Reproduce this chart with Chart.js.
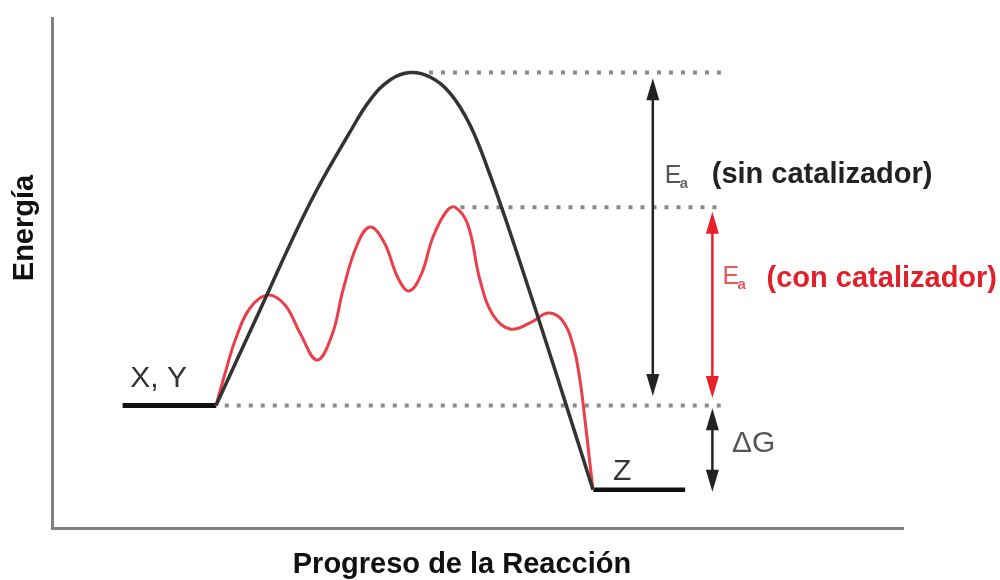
<!DOCTYPE html>
<html>
<head>
<meta charset="utf-8">
<title>Energía vs Progreso de la Reacción</title>
<script src="https://cdn.jsdelivr.net/npm/chart.js@4.4.1/dist/chart.umd.min.js"></script>
<style>
  html, body { margin: 0; padding: 0; background: #fff; }
  #wrap { width: 1000px; height: 580px; }
</style>
</head>
<body>
<div id="wrap"><canvas id="chart" width="1000" height="580"></canvas></div>
<script>
"use strict";

// ── Data (progress 0–100, energy 0–100) ───────────────────────────────────
const reactantX  = [8.3, 19.3];
const productX   = [63.6, 74.4];
const levelE     = { reactant: 24, product: 7.5, peakUncat: 89.3, peakCat: 62.9 };

// uncatalysed path
const blackX = [19.27, 24.44, 30.32, 35.02, 37.37, 39.72, 42.07, 44.42, 46.77, 49.12, 51.47, 54.52, 59.11, 63.57];
const blackE = [24.0, 42.75, 63.73, 77.65, 83.9, 87.84, 89.3, 88.43, 85.29, 79.02, 69.22, 54.51, 30.98, 7.5];

// catalysed path
const redX = [19.27, 20.45, 21.62, 23.27, 25.38, 27.38, 29.14, 31.14, 32.90, 34.20, 35.84, 37.37, 39.01, 40.66, 41.95,
              43.36, 44.77, 46.30, 47.36, 48.88, 50.29, 51.82, 53.82, 56.17, 58.28, 59.93, 61.22, 62.04, 62.63, 63.10, 63.57];
const redE = [24.0, 30.98, 37.25, 43.14, 45.69, 43.73, 38.24, 32.94, 37.84, 46.67, 55.49, 59.02, 56.08, 49.02, 46.47,
              49.61, 57.06, 61.96, 62.9, 59.41, 48.63, 41.76, 39.02, 40.20, 42.16, 40.78, 35.88, 29.02, 21.18, 14.31, 7.5];

// dotted guide lines: [xStart, xEnd, energy]
const guides = [
  [44.3, 78.6, levelE.peakUncat],
  [48.0, 78.6, levelE.peakCat],
  [20.3, 78.6, levelE.reactant],
];

// double arrows: [x, bottom tip, top tip]
const arrowUncat = [70.6, 25.9, 88.2];
const arrowCat   = [77.6, 25.5, 62.0];
const arrowDG    = [77.6, 7.1, 23.5];

const zip = (xs, ys) => xs.map((x, i) => ({ x, y: ys[i] }));

// ── Annotation plugin: arrows + labels ────────────────────────────────────
const annotations = {
  id: "annotations",
  afterDatasetsDraw(chart) {
    const { ctx, chartArea } = chart;
    const xs = chart.scales.x, ys = chart.scales.y;
    const px = (v) => xs.getPixelForValue(v);
    const py = (v) => ys.getPixelForValue(v);

    function arrow([x, e0, e1], color) {
      const X = px(x), Y0 = py(e0), Y1 = py(e1);
      const len = 22, hw = 6.5;
      ctx.save();
      ctx.strokeStyle = color;
      ctx.fillStyle = color;
      ctx.lineWidth = 2.5;
      ctx.beginPath();
      ctx.moveTo(X, Y0 - len + 2);
      ctx.lineTo(X, Y1 + len - 2);
      ctx.stroke();
      ctx.beginPath();
      ctx.moveTo(X, Y1); ctx.lineTo(X - hw, Y1 + len); ctx.lineTo(X + hw, Y1 + len); ctx.closePath();
      ctx.fill();
      ctx.beginPath();
      ctx.moveTo(X, Y0); ctx.lineTo(X - hw, Y0 - len); ctx.lineTo(X + hw, Y0 - len); ctx.closePath();
      ctx.fill();
      ctx.restore();
    }
    arrow(arrowUncat, "#222");
    arrow(arrowCat, "#e8202a");
    arrow(arrowDG, "#222");

    function text(str, x, y, font, color, align = "left") {
      ctx.font = font;
      ctx.fillStyle = color;
      ctx.textAlign = align;
      ctx.textBaseline = "alphabetic";
      ctx.fillText(str, x, y);
    }

    ctx.save();
    const reg  = '30px "Liberation Sans", Arial, sans-serif';
    const bold = 'bold 29px "Liberation Sans", Arial, sans-serif';
    text("X, Y", px(9.2), py(27.6), reg, "#333");
    text("Z", px(67.0), py(9.4), reg, "#333", "center");
    text("ΔG", px(79.9), py(14.9), reg, "#555");

    // Ea (sin catalizador)
    let x0 = px(72.0), y0 = py(67.6);
    text("E", x0, y0, '25px "Liberation Sans", Arial, sans-serif', "#555");
    text("a", x0 + 15, y0 + 5, 'bold 15px "Liberation Sans", Arial, sans-serif', "#666");
    text("(sin catalizador)", x0 + 47, y0, bold, "#222");

    // Ea (con catalizador)
    x0 = px(78.8); y0 = py(47.3);
    text("E", x0, y0 - 3, '25px "Liberation Sans", Arial, sans-serif', "#e85a5a");
    text("a", x0 + 15, y0 + 2, 'bold 15px "Liberation Sans", Arial, sans-serif', "#e85a5a");
    text("(con catalizador)", x0 + 44, y0, bold, "#e0202a");

    // axis titles
    ctx.textBaseline = "middle";
    ctx.font = bold;
    ctx.fillStyle = "#111";
    ctx.textAlign = "center";
    ctx.fillText("Progreso de la Reacción", 462, chartArea.bottom + 37);
    ctx.translate(chartArea.left - 27, chartArea.top + 210);
    ctx.rotate(-Math.PI / 2);
    ctx.fillText("Energía", 0, 0);
    ctx.restore();
  },
};

// ── Datasets ──────────────────────────────────────────────────────────────
const dotted = (g) => ({
  data: [{ x: g[0], y: g[2] }, { x: g[1], y: g[2] }],
  borderColor: "#8a8a8a",
  borderWidth: 4,
  borderDash: [4, 8],
  pointRadius: 0,
});

const datasets = [
  {
    data: zip(blackX, blackE),
    borderColor: "#333",
    borderWidth: 3.5,
    tension: 0.4,
    pointRadius: 0,
  },
  {
    data: zip(redX, redE),
    borderColor: "#ea3f48",
    borderWidth: 3,
    tension: 0.4,
    pointRadius: 0,
  },
  {
    data: reactantX.map((x) => ({ x, y: levelE.reactant })),
    borderColor: "#111",
    borderWidth: 5,
    pointRadius: 0,
  },
  {
    data: productX.map((x) => ({ x, y: levelE.product })),
    borderColor: "#111",
    borderWidth: 4.5,
    pointRadius: 0,
  },
  ...guides.map(dotted),
];

// ── Chart ─────────────────────────────────────────────────────────────────
new Chart(document.getElementById("chart").getContext("2d"), {
  type: "line",
  data: { datasets },
  options: {
    responsive: false,
    animation: false,
    layout: { padding: { left: 52, top: 18, right: 97, bottom: 52 } },
    scales: {
      x: {
        type: "linear", min: 0, max: 100,
        ticks: { display: false },
        grid: { display: false, drawTicks: false },
        border: { display: true, color: "#808080", width: 3 },
      },
      y: {
        type: "linear", min: 0, max: 100,
        ticks: { display: false },
        grid: { display: false, drawTicks: false },
        border: { display: true, color: "#808080", width: 3 },
      },
    },
    plugins: { legend: { display: false }, tooltip: { enabled: false } },
  },
  plugins: [annotations],
});
</script>
</body>
</html>
